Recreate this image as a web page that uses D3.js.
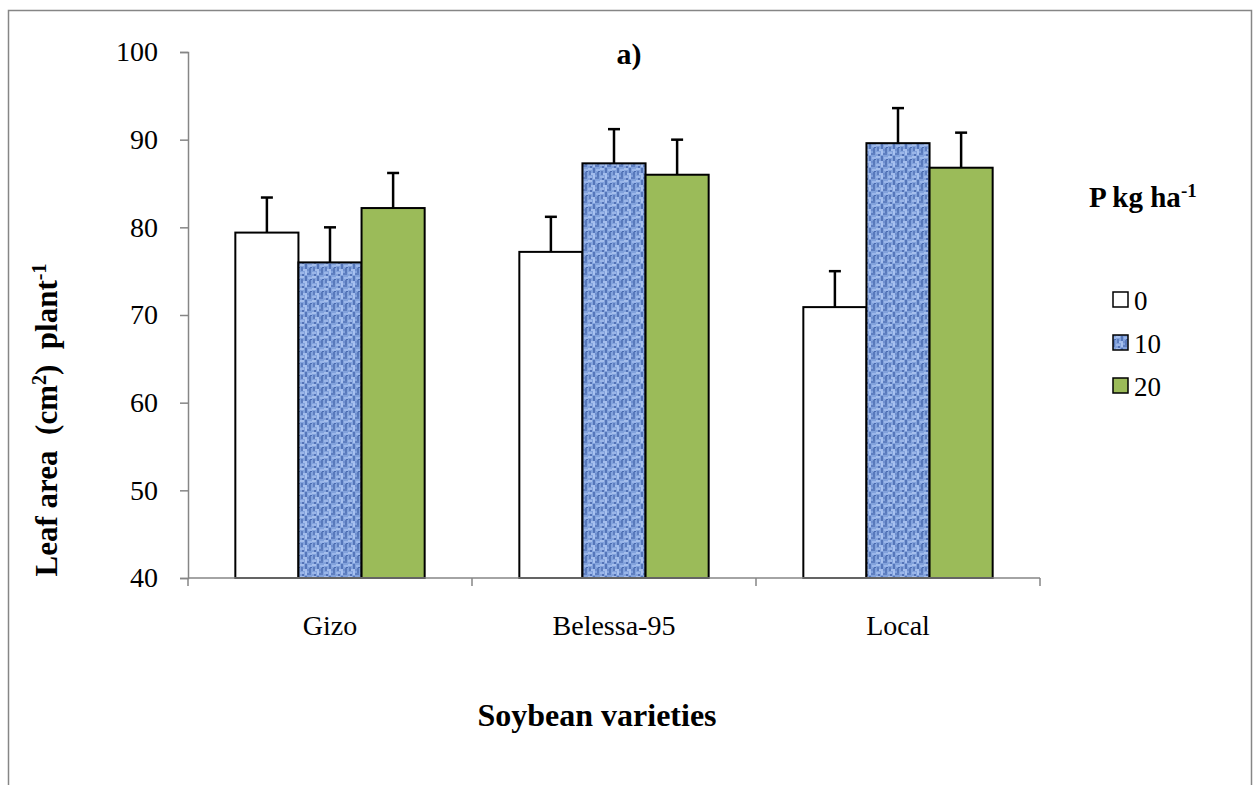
<!DOCTYPE html>
<html>
<head>
<meta charset="utf-8">
<script src="https://cdn.jsdelivr.net/npm/d3@7"></script>
<style>
  body { margin: 0; background: #fff; }
  svg text { font-family: "Liberation Serif", "Times New Roman", serif; fill: #000; }
</style>
</head>
<body>
<svg id="chart" width="1254" height="785"></svg>
<script>
// chart data
const varieties = ['Gizo', 'Belessa-95', 'Local'];
const doses = ['0', '10', '20'];
const leafArea0 = [79.4, 77.2, 70.9];
const leafArea10 = [76.0, 87.3, 89.6];
const leafArea20 = [82.2, 86.0, 86.8];
const errors0 = [4.0, 4.0, 4.1];
const errors10 = [4.0, 3.9, 4.0];
const errors20 = [4.0, 4.0, 4.0];
const yTicks = [40, 50, 60, 70, 80, 90, 100];

const seriesValues = [leafArea0, leafArea10, leafArea20];
const seriesErrors = [errors0, errors10, errors20];

const svg = d3.select('#chart');
const axisColor = '#868686';

// outer frame (bottom edge falls outside the picture)
svg.append('rect')
    .attr('x', 8.5).attr('y', 10.5)
    .attr('width', 1243).attr('height', 800)
    .attr('fill', 'none')
    .attr('stroke', axisColor)
    .attr('stroke-width', 1.5);

// blue woven texture for the 10 kg series
const defs = svg.append('defs');
const pat = defs.append('pattern')
    .attr('id', 'weave')
    .attr('patternUnits', 'userSpaceOnUse')
    .attr('width', 12).attr('height', 12);
pat.append('rect').attr('width', 12).attr('height', 12).attr('fill', '#82a2dc');
const weave = [
    [0, 0, 4, 2, '#a6bfec'], [5, 0, 2, 5, '#5576ba'], [8, 1, 4, 2, '#9ab6ea'],
    [1, 3, 2, 4, '#5e7ec0'], [3, 5, 4, 2, '#a3bdec'], [9, 4, 2, 5, '#5879bb'],
    [0, 8, 4, 2, '#9bb6e8'], [5, 7, 2, 4, '#a8c1ef'], [7, 9, 4, 2, '#5f7fc1'],
    [10, 3, 2, 1, '#4a6bb0'], [2, 10, 2, 2, '#5372b6'], [7, 5, 2, 2, '#6f8fd0']
];
weave.forEach(w => {
    pat.append('rect')
        .attr('x', w[0]).attr('y', w[1])
        .attr('width', w[2]).attr('height', w[3])
        .attr('fill', w[4]);
});

const fills = ['#ffffff', 'url(#weave)', '#9bbb59'];

// scales
const x = d3.scaleBand()
    .domain(varieties)
    .range([188, 1040])
    .paddingInner(0)
    .paddingOuter(0);

const xSub = d3.scaleBand()
    .domain(doses)
    .range([0, x.bandwidth()])
    .paddingInner(0)
    .paddingOuter(0.75);

const y = d3.scaleLinear()
    .domain([40, 100])
    .range([578, 52]);

// y axis
const yAxis = svg.append('g')
    .attr('transform', 'translate(188,0)')
    .call(d3.axisLeft(y).tickValues(yTicks).tickSize(8).tickPadding(22));
yAxis.select('.domain').attr('stroke', axisColor).attr('stroke-width', 1.5);
yAxis.selectAll('.tick line').attr('stroke', axisColor).attr('stroke-width', 1.5);
yAxis.selectAll('.tick text')
    .style('font-family', '"Liberation Serif", serif')
    .style('font-size', '28px')
    .attr('fill', '#000');

// bars
const rows = [];
varieties.forEach((v, i) => {
    doses.forEach((d, j) => {
        rows.push({ variety: v, dose: d, value: seriesValues[j][i], err: seriesErrors[j][i], s: j });
    });
});

const groups = svg.append('g');
groups.selectAll('rect.bar')
    .data(rows)
    .enter()
    .append('rect')
    .attr('class', 'bar')
    .attr('x', d => x(d.variety) + xSub(d.dose))
    .attr('y', d => y(d.value))
    .attr('width', xSub.bandwidth())
    .attr('height', d => y(40) - y(d.value))
    .attr('fill', d => fills[d.s])
    .attr('stroke', '#000')
    .attr('stroke-width', 2);

// error bars (upper side only)
const errG = svg.append('g').attr('stroke', '#000').attr('stroke-width', 2.5);
rows.forEach(d => {
    const cx = x(d.variety) + xSub(d.dose) + xSub.bandwidth() / 2;
    errG.append('line')
        .attr('x1', cx).attr('x2', cx)
        .attr('y1', y(d.value)).attr('y2', y(d.value + d.err));
    errG.append('line')
        .attr('x1', cx - 6).attr('x2', cx + 6)
        .attr('y1', y(d.value + d.err)).attr('y2', y(d.value + d.err));
});

// x axis: line with ticks at category borders
const xAxisG = svg.append('g');
xAxisG.append('line')
    .attr('x1', x.range()[0]).attr('x2', x.range()[1])
    .attr('y1', y(40)).attr('y2', y(40))
    .attr('stroke', axisColor).attr('stroke-width', 1.5);
const borders = varieties.map(v => x(v)).concat([x.range()[1]]);
xAxisG.selectAll('line.tick')
    .data(borders)
    .enter()
    .append('line')
    .attr('class', 'tick')
    .attr('x1', d => d).attr('x2', d => d)
    .attr('y1', y(40)).attr('y2', y(40) + 8)
    .attr('stroke', axisColor).attr('stroke-width', 1.5);
xAxisG.selectAll('text')
    .data(varieties)
    .enter()
    .append('text')
    .attr('x', d => x(d) + x.bandwidth() / 2)
    .attr('y', 635)
    .attr('text-anchor', 'middle')
    .style('font-size', '28px')
    .text(d => d);

// titles
svg.append('text')
    .attr('x', 629).attr('y', 64)
    .attr('text-anchor', 'middle')
    .style('font-size', '30px').style('font-weight', 'bold')
    .text('a)');

svg.append('text')
    .attr('x', 597).attr('y', 726)
    .attr('text-anchor', 'middle')
    .style('font-size', '32px').style('font-weight', 'bold')
    .text('Soybean varieties');

const yTitle = svg.append('text')
    .attr('transform', 'translate(57,420) rotate(-90)')
    .attr('text-anchor', 'middle')
    .style('font-size', '31px').style('font-weight', 'bold')
    .attr('xml:space', 'preserve');
yTitle.append('tspan').text('Leaf area  (cm');
yTitle.append('tspan').attr('dy', -11).style('font-size', '20px').text('2');
yTitle.append('tspan').attr('dy', 11).text(')  plant');
yTitle.append('tspan').attr('dy', -11).style('font-size', '20px').text('-1');

// legend
const legTitle = svg.append('text')
    .attr('x', 1089).attr('y', 207)
    .style('font-size', '29px').style('font-weight', 'bold');
legTitle.append('tspan').text('P kg ha');
legTitle.append('tspan').attr('dy', -10).style('font-size', '19px').text('-1');

const legend = svg.append('g');
doses.forEach((d, j) => {
    const ly = 300 + j * 43;
    legend.append('rect')
        .attr('x', 1113).attr('y', ly - 8)
        .attr('width', 15).attr('height', 15)
        .attr('fill', fills[j])
        .attr('stroke', '#000').attr('stroke-width', 1.5);
    legend.append('text')
        .attr('x', 1134).attr('y', ly + 10)
        .style('font-size', '27px')
        .text(d);
});
</script>
</body>
</html>
